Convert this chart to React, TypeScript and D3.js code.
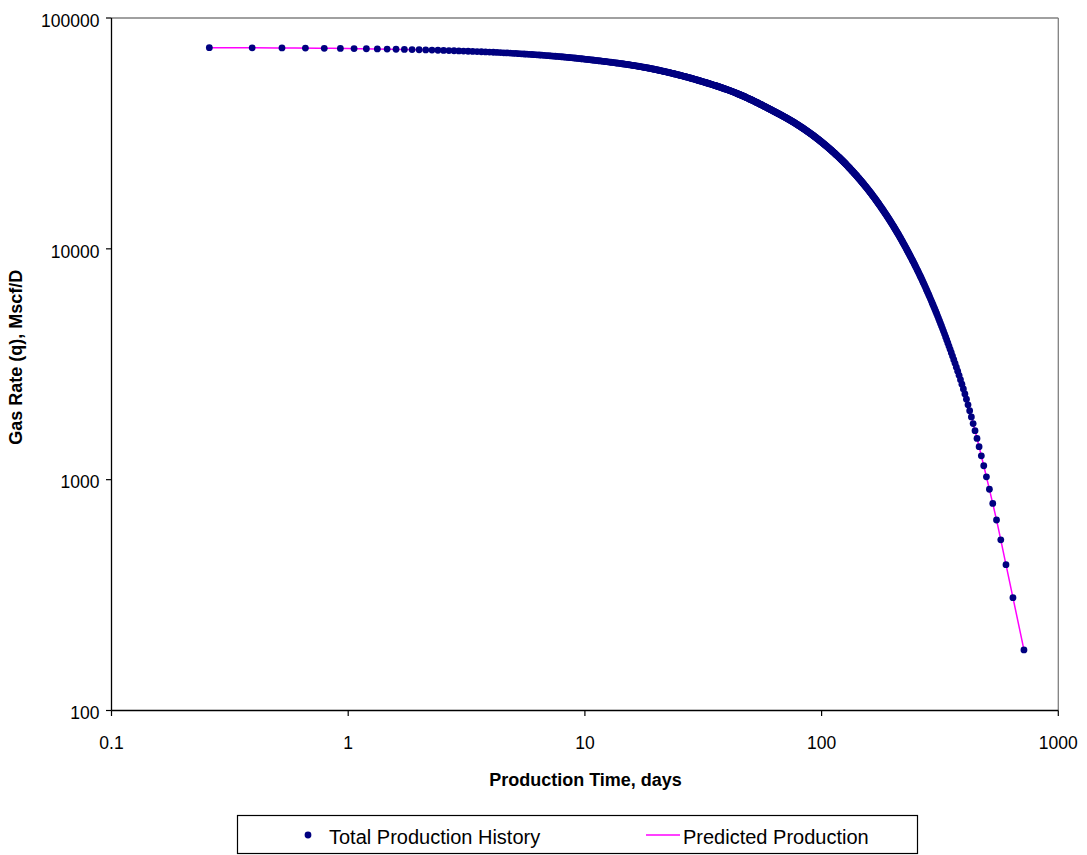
import React from 'react';
import * as d3 from 'd3';

// Axis ticks
const xTicks = [0.1, 1, 10, 100, 1000];
const yTicks = [100, 1000, 10000, 100000];

// Predicted production curve (days, Mscf/D)
const predictedDays = [0.259, 0.5, 0.75, 1, 1.5, 2, 3, 5, 10, 20, 30, 45, 60, 80, 100, 130, 170, 220, 280, 340, 410, 444.8, 498, 547, 602.7, 716];
const predictedRate = [74410, 74193, 73968, 73743, 73293, 72843, 71950, 70300, 66330, 59730, 53770, 46630, 40430, 34250, 29010, 22620, 16230, 10710, 6513, 3958, 2214, 1630, 1020, 676, 423, 183];

// History points are recorded at equal rate decrements (read: ~120 Mscf/D between points)
const historyRateStep = 120.1;

const W = 1087;
const H = 855;
const M = { left: 111.5, right: 1058.3, top: 18, bottom: 710.5 };
const FONT = "'Liberation Sans', Arial, Helvetica, sans-serif";

// monotone (Steffen) cubic in log-log space, same rule as d3.curveMonotoneX
function makeLogLogCurve(days: number[], rates: number[]) {
  const u = days.map(Math.log10);
  const v = rates.map(Math.log10);
  const n = u.length;
  const sgn = (a: number) => (a < 0 ? -1 : 1);
  const m = new Array(n).fill(0);
  for (let i = 1; i < n - 1; i++) {
    const h0 = u[i] - u[i - 1];
    const h1 = u[i + 1] - u[i];
    const s0 = (v[i] - v[i - 1]) / h0;
    const s1 = (v[i + 1] - v[i]) / h1;
    const p = (s0 * h1 + s1 * h0) / (h0 + h1);
    m[i] = (sgn(s0) + sgn(s1)) * Math.min(Math.abs(s0), Math.abs(s1), 0.5 * Math.abs(p)) || 0;
  }
  m[0] = (3 * (v[1] - v[0]) / (u[1] - u[0]) - m[1]) / 2;
  m[n - 1] = (3 * (v[n - 1] - v[n - 2]) / (u[n - 1] - u[n - 2]) - m[n - 2]) / 2;
  const vAt = (uu: number) => {
    let i = 0;
    while (i < n - 2 && uu > u[i + 1]) i++;
    const h = u[i + 1] - u[i];
    const s = (uu - u[i]) / h;
    const s2 = s * s;
    const s3 = s2 * s;
    return (
      (2 * s3 - 3 * s2 + 1) * v[i] +
      (s3 - 2 * s2 + s) * h * m[i] +
      (-2 * s3 + 3 * s2) * v[i + 1] +
      (s3 - s2) * h * m[i + 1]
    );
  };
  const dayAtRate = (q: number) => {
    const target = Math.log10(q);
    let lo = u[0];
    let hi = u[n - 1];
    for (let k = 0; k < 60; k++) {
      const mid = (lo + hi) / 2;
      if (vAt(mid) > target) lo = mid;
      else hi = mid;
    }
    return Math.pow(10, (lo + hi) / 2);
  };
  return dayAtRate;
}

export default function App() {
  const x = d3.scaleLog().domain([0.1, 1000]).range([M.left, M.right]);
  const y = d3.scaleLog().domain([100, 100000]).range([M.bottom, M.top]);

  const dayAtRate = makeLogLogCurve(predictedDays, predictedRate);

  const qFirst = predictedRate[0];
  const qLast = predictedRate[predictedRate.length - 1];
  const n = Math.round((qFirst - qLast) / historyRateStep);
  const historyRates = d3.range(n + 1).map((k) => (k === n ? qLast : qFirst - k * historyRateStep));
  const history = historyRates.map((q, k) => ({
    day: k === 0 ? predictedDays[0] : k === n ? predictedDays[predictedDays.length - 1] : dayAtRate(q),
    rate: q,
  }));

  const predicted = predictedDays.map((d, i) => ({ day: d, rate: predictedRate[i] }));
  const line = d3
    .line<{ day: number; rate: number }>()
    .x((d) => x(d.day))
    .y((d) => y(d.rate))
    .curve(d3.curveMonotoneX);

  return (
    <svg
      width={W}
      height={H}
      style={{ position: 'absolute', left: 0, top: 0, background: '#fff' }}
      fontFamily={FONT}
    >
      <rect x={0} y={0} width={W} height={H} fill="#fff" />
      {/* plot area frame */}
      <line x1={M.left} x2={M.right} y1={M.top} y2={M.top} stroke="#808080" strokeWidth={1.3} />
      <line x1={M.right} x2={M.right} y1={M.top} y2={M.bottom} stroke="#808080" strokeWidth={1.3} />
      {/* axes */}
      <line x1={M.left} x2={M.left} y1={M.top} y2={M.bottom} stroke="#000" strokeWidth={1.3} />
      <line x1={M.left} x2={M.right} y1={M.bottom} y2={M.bottom} stroke="#000" strokeWidth={1.3} />

      {/* y ticks */}
      {yTicks.map((t) => (
        <g key={'y' + t}>
          <line x1={M.left - 5.5} x2={M.left} y1={y(t)} y2={y(t)} stroke="#000" strokeWidth={1.2} />
          <text x={99.5} y={y(t) + 8.8} textAnchor="end" fontSize={17.5} fill="#000">
            {String(t)}
          </text>
        </g>
      ))}
      {/* x ticks */}
      {xTicks.map((t) => (
        <g key={'x' + t}>
          <line x1={x(t)} x2={x(t)} y1={M.bottom} y2={M.bottom + 5.5} stroke="#000" strokeWidth={1.2} />
          <text x={x(t)} y={M.bottom + 38.8} textAnchor="middle" fontSize={17.5} fill="#000">
            {String(t)}
          </text>
        </g>
      ))}

      {/* predicted line */}
      <path d={line(predicted) || ''} fill="none" stroke="#FF00FF" strokeWidth={1.5} />

      {/* history points */}
      {history.map((p, i) => (
        <circle key={i} cx={x(p.day)} cy={y(p.rate)} r={3.4} fill="#000080" />
      ))}

      {/* axis titles */}
      <text x={585.5} y={785.5} textAnchor="middle" fontSize={18} fontWeight="bold" fill="#000">
        Production Time, days
      </text>
      <text
        transform={`translate(22,357.3) rotate(-90)`}
        textAnchor="middle"
        fontSize={18}
        fontWeight="bold"
        fill="#000"
      >
        Gas Rate (q), Mscf/D
      </text>

      {/* legend */}
      <rect x={237.5} y={815.5} width={680} height={38} fill="#fff" stroke="#000" strokeWidth={1.2} />
      <circle cx={308} cy={835} r={3.4} fill="#000080" />
      <text x={329} y={844} fontSize={20} fill="#000">
        Total Production History
      </text>
      <line x1={646} x2={680} y1={835} y2={835} stroke="#FF00FF" strokeWidth={1.5} />
      <text x={683} y={844} fontSize={20} fill="#000">
        Predicted Production
      </text>
    </svg>
  );
}
